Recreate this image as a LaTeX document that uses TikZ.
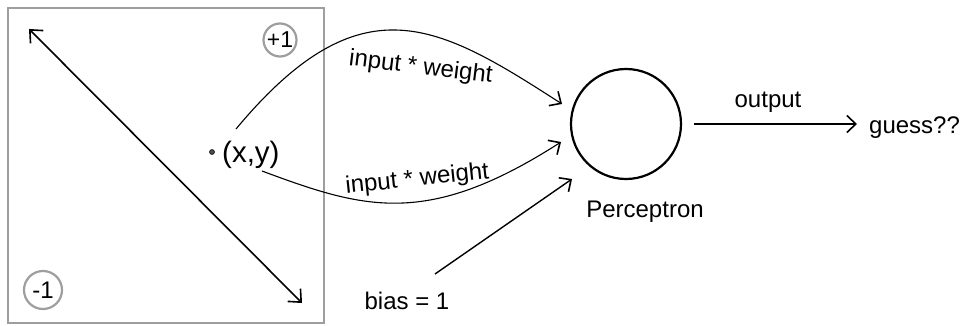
\documentclass[tikz,border=0pt]{standalone}
\usepackage{fontspec}
\setmainfont{Liberation Sans}
\usetikzlibrary{arrows.meta}
\begin{document}
\begin{tikzpicture}[x=1pt,y=-1pt,
  lbl/.style={font=\fontsize{24}{28}\selectfont, inner sep=0pt},
  graybox/.style={draw=black!38, line width=2.2pt},
  tip/.style={-{Straight Barb[length=9pt,width=17pt,line width=1.6pt]}},
  thin/.style={line width=1.1pt},
]
\useasboundingbox (0,0) rectangle (974,326);
% frame
\draw[graybox] (8,8) rectangle (324,323);
% double arrow
\coordinate (da) at (29,29);
\coordinate (db) at (302,303);
\draw[line width=1.6pt, {Straight Barb[length=10pt,width=18pt,line width=1.6pt]}-{Straight Barb[length=10pt,width=18pt,line width=1.6pt]}] (da) -- (db);
% +1 / -1
\node[graybox, circle, minimum size=33pt, inner sep=0pt, font=\fontsize{23}{26}\selectfont] (plus) at (280,40) {+1};
\node[graybox, circle, minimum size=38pt, inner sep=0pt, font=\fontsize{24}{27}\selectfont] (minus) at (43,290) {-1};
% point
\node[circle, fill=black!70, draw=black, line width=0.5pt, minimum size=5pt, inner sep=0pt] (dot) at (212,152) {};
\node[font=\fontsize{29.5}{34}\selectfont, inner sep=0pt, anchor=base west] (xy) at (222,162) {(x,y)};
% perceptron
\node[circle, draw, line width=2.2pt, minimum size=110pt, inner sep=0pt] (p) at (626,124) {};
\node[lbl, anchor=base] (plabel) at (645,217) {Perceptron};
% curves
\coordinate (u0) at (236,129);
\coordinate (u1) at (562,104);
\coordinate (l0) at (262,171);
\coordinate (l1) at (561,142);
\draw[thin, tip] (u0) .. controls (361,-21) and (438,24) .. (u1);
\draw[thin, tip] (l0) .. controls (364,209) and (427,228) .. (l1);
\node[lbl, anchor=base, rotate=-7] (w1) at (420,74) {input * weight};
\node[lbl, anchor=base, rotate=6] (w2) at (418,186) {input * weight};
% bias
\node[lbl, anchor=base] (bias) at (407,309) {bias = 1};
\coordinate (b0) at (435,274);
\coordinate (b1) at (572,179);
\draw[line width=1.4pt, tip] (b0) -- (b1);
% output
\coordinate (o0) at (694,124);
\coordinate (o1) at (857,124);
\draw[line width=1.4pt, tip] (o0) -- (o1);
\node[lbl, anchor=base] (out) at (768,108) {output};
\node[lbl, anchor=base west] (guess) at (869,133) {guess??};
\end{tikzpicture}
\end{document}
